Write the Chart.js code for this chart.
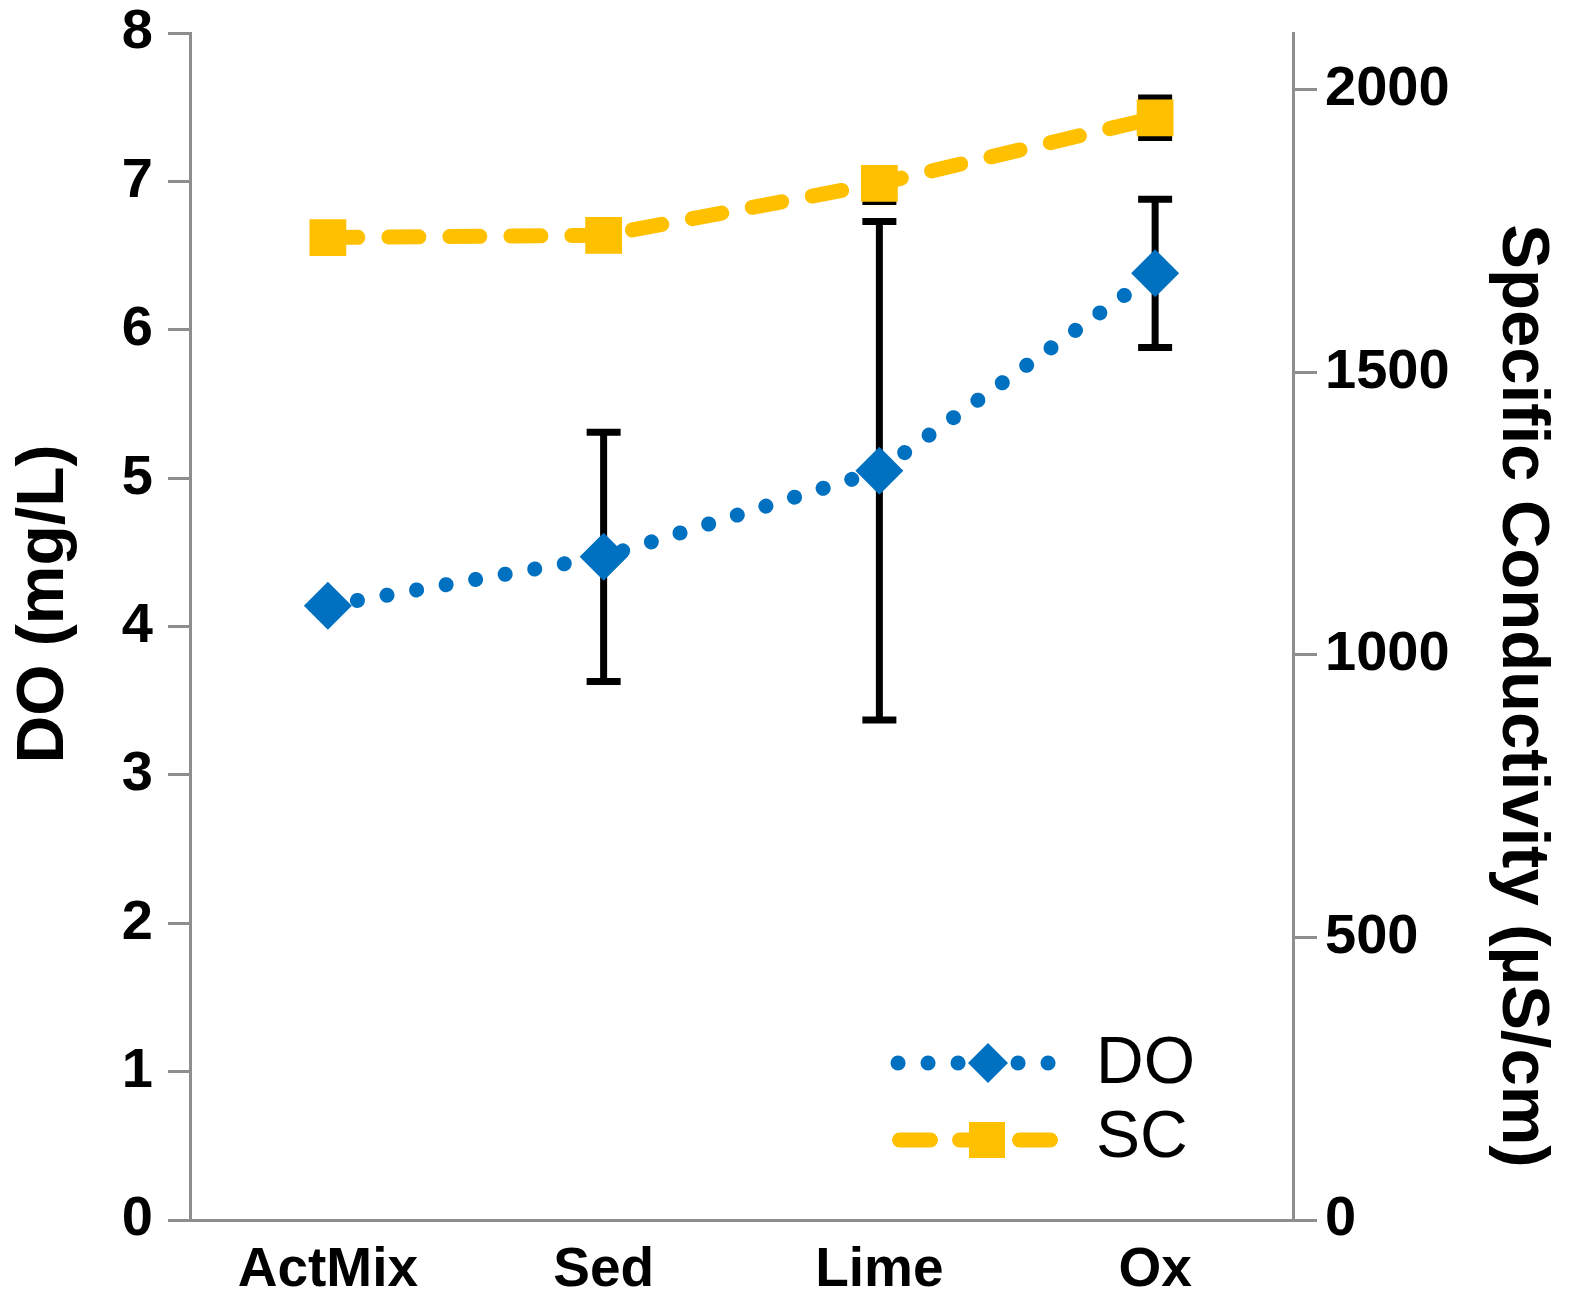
<!DOCTYPE html>
<html>
<head>
<meta charset="utf-8">
<script src="https://cdn.jsdelivr.net/npm/chart.js@4.4.1/dist/chart.umd.min.js"></script>
<style>
  html, body { margin: 0; padding: 0; background: #fff; }
  #wrap { width: 1569px; height: 1297px; }
</style>
</head>
<body>
<div id="wrap"><canvas id="doScChart" width="1569" height="1297"></canvas></div>
<script>
// Chart data
const categories = ['ActMix', 'Sed', 'Lime', 'Ox'];
const doValues = [4.14, 4.47, 5.05, 6.38];
const doError = [0, 0.84, 1.68, 0.50];
const scValues = [1738, 1742, 1834, 1950];
const scErrorLow = [0, 0, 32, 35];
const scErrorHigh = [0, 0, 0, 35];
const doTicks = [0, 1, 2, 3, 4, 5, 6, 7, 8];
const scTicks = [0, 500, 1000, 1500, 2000];

const FONT = '"Liberation Sans", Arial, Helvetica, sans-serif';
const BLUE = '#0070C0';
const YELLOW = '#FFC000';
const AXIS = '#8e8e8e';

// Error bars, drawn under the markers
const errorBars = {
    id: 'errorBars',
    beforeDatasetsDraw(chart) {
        const ctx = chart.ctx;
        const x = chart.scales.x;
        const sets = [
            { scale: chart.scales.y, values: doValues, low: doError, high: doError },
            { scale: chart.scales.y1, values: scValues, low: scErrorLow, high: scErrorHigh }
        ];
        ctx.save();
        ctx.strokeStyle = '#000';
        ctx.lineWidth = 7;
        sets.forEach(s => {
            s.values.forEach((v, i) => {
                if (!s.low[i] && !s.high[i]) return;
                const px = x.getPixelForValue(i);
                const top = s.scale.getPixelForValue(v + s.high[i]);
                const bot = s.scale.getPixelForValue(v - s.low[i]);
                ctx.beginPath();
                ctx.moveTo(px, top);
                ctx.lineTo(px, bot);
                if (s.high[i]) { ctx.moveTo(px - 17, top); ctx.lineTo(px + 17, top); }
                if (s.low[i]) { ctx.moveTo(px - 17, bot); ctx.lineTo(px + 17, bot); }
                ctx.stroke();
            });
        });
        ctx.restore();
    }
};

// Axis titles (placed by hand, they are not centred on the axes)
const axisTitles = {
    id: 'axisTitles',
    afterDraw(chart) {
        const ctx = chart.ctx;
        ctx.save();
        ctx.fillStyle = '#000';
        ctx.textAlign = 'center';
        ctx.textBaseline = 'alphabetic';

        ctx.save();
        ctx.font = 'bold 66px ' + FONT;
        ctx.translate(63, 604);
        ctx.rotate(-Math.PI / 2);
        ctx.fillText('DO (mg/L)', 0, 0);
        ctx.restore();

        ctx.save();
        ctx.font = 'bold 67px ' + FONT;
        ctx.translate(1503, 696);
        ctx.rotate(Math.PI / 2);
        ctx.fillText('Specific Conductivity (\u00B5S/cm)', 0, 0);
        ctx.restore();

        ctx.restore();
    }
};

// Legend with line samples
const lineLegend = {
    id: 'lineLegend',
    afterDraw(chart) {
        const ctx = chart.ctx;
        const ds = chart.data.datasets;
        ctx.save();

        // DO row
        ctx.strokeStyle = BLUE;
        ctx.lineWidth = 15;
        ctx.lineCap = 'round';
        ctx.setLineDash([0.1, 29.9]);
        ctx.beginPath();
        ctx.moveTo(898, 1063);
        ctx.lineTo(1050, 1063);
        ctx.stroke();
        ctx.setLineDash([]);
        ctx.fillStyle = BLUE;
        ctx.beginPath();
        ctx.moveTo(988, 1043);
        ctx.lineTo(1008, 1063);
        ctx.lineTo(988, 1083);
        ctx.lineTo(968, 1063);
        ctx.closePath();
        ctx.fill();

        // SC row
        ctx.strokeStyle = YELLOW;
        ctx.lineWidth = 15;
        ctx.setLineDash([31, 29]);
        ctx.beginPath();
        ctx.moveTo(899.5, 1140);
        ctx.lineTo(1050.5, 1140);
        ctx.stroke();
        ctx.setLineDash([]);
        ctx.fillStyle = YELLOW;
        ctx.fillRect(969, 1122, 36, 36);

        ctx.fillStyle = '#000';
        ctx.font = '66px ' + FONT;
        ctx.textAlign = 'left';
        ctx.textBaseline = 'alphabetic';
        ctx.fillText(ds[0].label, 1096, 1083);
        ctx.fillText(ds[1].label, 1096, 1157);
        ctx.restore();
    }
};

// Fix the axis box sizes so the plot area lands where it does in the figure
function fixWidth(w) {
    return s => {
        s.width = w;
        s.paddingTop = 0;
        s.paddingBottom = 0;
    };
}

const ctx = document.getElementById('doScChart').getContext('2d');
new Chart(ctx, {
    type: 'line',
    data: {
        labels: categories,
        datasets: [{
            label: 'DO',
            data: doValues,
            yAxisID: 'y',
            borderColor: BLUE,
            borderWidth: 15,
            borderDash: [0.1, 29.9],
            borderCapStyle: 'round',
            borderJoinStyle: 'round',
            tension: 0,
            pointStyle: 'rectRot',
            pointRadius: 24,
            pointBackgroundColor: BLUE,
            pointBorderWidth: 0
        }, {
            label: 'SC',
            data: scValues,
            yAxisID: 'y1',
            borderColor: YELLOW,
            borderWidth: 15,
            borderDash: [30, 31],
            borderCapStyle: 'round',
            borderJoinStyle: 'round',
            tension: 0,
            pointStyle: 'rect',
            pointRadius: 26,
            pointBackgroundColor: YELLOW,
            pointBorderWidth: 0
        }]
    },
    options: {
        responsive: false,
        animation: false,
        events: [],
        layout: { padding: { top: 33, left: 0, right: 0, bottom: 0 } },
        plugins: {
            legend: { display: false },
            tooltip: { enabled: false }
        },
        scales: {
            x: {
                type: 'category',
                offset: true,
                grid: { display: false, drawTicks: false },
                border: { display: true, color: AXIS, width: 3 },
                ticks: {
                    color: '#000',
                    padding: 18,
                    font: { family: FONT, size: 55, weight: 'bold' }
                },
                afterFit: s => { s.height = 77; }
            },
            y: {
                position: 'left',
                min: 0,
                max: 8,
                afterBuildTicks: s => { s.ticks = doTicks.map(v => ({ value: v })); },
                grid: { drawOnChartArea: false, color: AXIS, lineWidth: 3, tickLength: 22 },
                border: { display: true, color: AXIS, width: 3 },
                ticks: {
                    color: '#000',
                    padding: 15,
                    callback: v => String(v),
                    font: { family: FONT, size: 56, weight: 'bold' }
                },
                afterFit: fixWidth(190)
            },
            y1: {
                position: 'right',
                min: 0,
                max: 2100,
                afterBuildTicks: s => { s.ticks = scTicks.map(v => ({ value: v })); },
                grid: { drawOnChartArea: false, color: AXIS, lineWidth: 3, tickLength: 24 },
                border: { display: true, color: AXIS, width: 3 },
                ticks: {
                    color: '#000',
                    padding: 8,
                    callback: v => String(v),
                    font: { family: FONT, size: 56, weight: 'bold' }
                },
                afterFit: fixWidth(276)
            }
        }
    },
    plugins: [errorBars, axisTitles, lineLegend]
});
</script>
</body>
</html>
